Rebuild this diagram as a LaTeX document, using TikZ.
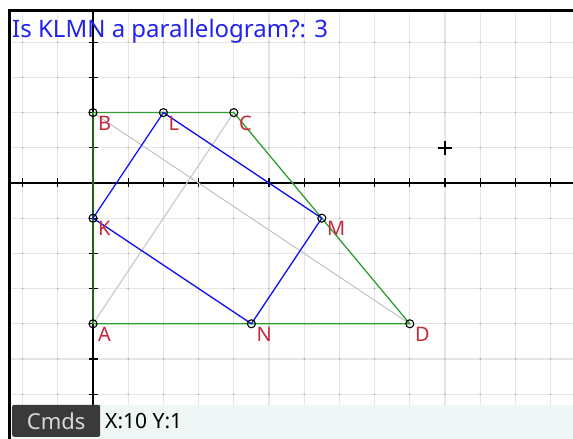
\documentclass[tikz,border=0pt]{standalone}
\usepackage{fontspec}
\setmainfont{Noto Sans}
\definecolor{gridc}{HTML}{E6E6E6}
\definecolor{dotc}{HTML}{A0A0A0}
\definecolor{barc}{HTML}{EEF7F5}
\definecolor{quadg}{HTML}{2E9E2E}
\definecolor{quadb}{HTML}{1010F0}
\definecolor{diagc}{HTML}{C8C8C8}
\definecolor{labc}{HTML}{C8283C}
\definecolor{titlec}{HTML}{2222F0}
\definecolor{btnc}{HTML}{3A3A3A}
\definecolor{btntext}{HTML}{D8D8D8}
\tikzset{
  gridline/.style={gridc, line width=1.2pt},
  axisline/.style={black, line width=1.2pt},
  green quad/.style={quadg, line width=1.3pt},
  blue quad/.style={quadb, line width=1.3pt},
  diag/.style={diagc, line width=1.1pt},
  ptmark/.style={circle, draw=black, line width=1.1pt, minimum size=8pt, inner sep=0pt},
  ptlabel/.style={anchor=north west, inner sep=0pt, text=labc, font=\fontsize{20}{20}\selectfont}
}
\begin{document}
\begin{tikzpicture}
\useasboundingbox (0,0) rectangle (573pt,439pt);
\fill[white] (0,0) rectangle (573pt,439pt);
\fill[barc] (11pt,0) rectangle (573pt,34pt);
\begin{scope}
\clip (11pt,34pt) rectangle (573pt,427pt);
\begin{scope}[shift={(93pt,256pt)},x=35.2pt,y=35.2pt]
  \foreach \i in {-3,...,14} \draw[gridline] (\i,-7) -- (\i,7);
  \foreach \j in {-7,...,7} \draw[gridline] (-3,\j) -- (14,\j);
  \foreach \i in {-3,...,14} \foreach \j in {-7,...,7} \fill[dotc] (\i,\j) circle[radius=0.8pt];
  \draw[axisline] (-3,0) -- (14,0);
  \draw[axisline] (0,-7) -- (0,7);
  \foreach \i in {-3,...,14} \draw[axisline] (\i,-4.5pt) -- (\i,4.5pt);
  \foreach \j in {-7,...,7} \draw[axisline] (-4.5pt,\j) -- (4.5pt,\j);
  % points
  \coordinate (A) at (0,-4);
  \coordinate (B) at (0,2);
  \coordinate (C) at (4,2);
  \coordinate (D) at (9,-4);
  \coordinate (K) at (0,-1);
  \coordinate (L) at (2,2);
  \coordinate (M) at (6.5,-1);
  \coordinate (N) at (4.5,-4);
  \draw[diag] (B) -- (D);
  \draw[diag] (A) -- (C);
  \draw[green quad] (A) -- (B) -- (C) -- (D) -- cycle;
  \draw[blue quad] (K) -- (L) -- (M) -- (N) -- cycle;
  \foreach \p in {A,B,C,D,K,L,M,N} {
    \node[ptmark] (m\p) at (\p) {};
    \node[ptlabel] (l\p) at ([shift={(5pt,-3pt)}]\p) {\p};
  }
  % cursor
  \coordinate (cur) at (10,1);
  \draw[black, line width=1.5pt] ([xshift=-7pt]cur) -- ([xshift=7pt]cur);
  \draw[black, line width=1.5pt] ([yshift=-7pt]cur) -- ([yshift=7pt]cur);
\end{scope}
\end{scope}
% frame
\draw[black, line width=3pt] (9.5pt,0) -- (9.5pt,428.5pt) -- (573pt,428.5pt);
% title
\node[anchor=base west, inner sep=0pt, text=titlec, font=\fontsize{24}{24}\selectfont] (title) at (12pt,401pt) {Is KLMN a parallelogram?: 3};
% bottom bar
\node[anchor=south west, fill=btnc, rounded corners=2pt, minimum width=88pt, minimum height=32pt, inner sep=0pt, text=btntext, font=\fontsize{22}{22}\selectfont] (cmds) at (12pt,2pt) {Cmds};
\node[anchor=west, inner sep=0pt, font=\fontsize{21}{21}\selectfont] (xy) at (105pt,18pt) {X:10 Y:1};
\end{tikzpicture}
\end{document}
